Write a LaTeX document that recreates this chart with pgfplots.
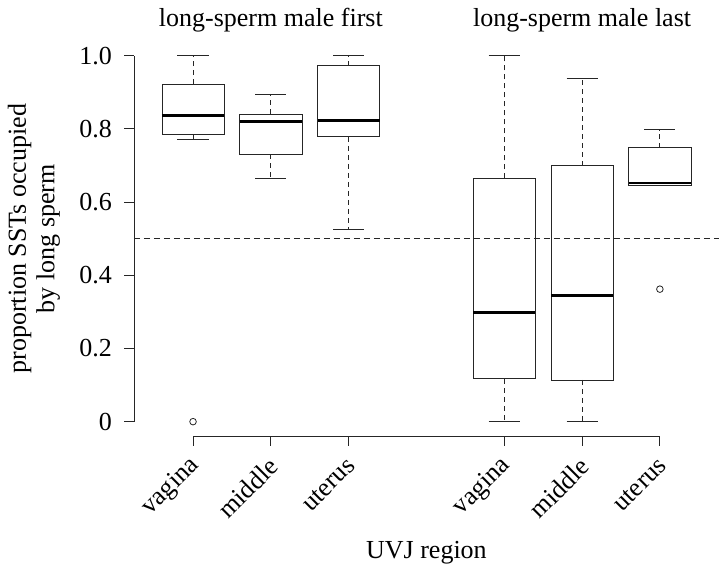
\documentclass[border=0pt]{standalone}
\usepackage{fontspec}
\setmainfont{Liberation Serif}
\usepackage{pgfplots}
\pgfplotsset{compat=1.18}
\usepgfplotslibrary{statistics}
\definecolor{ln}{gray}{0.15}
\pgfplotsset{
  boxplot/draw/lower whisker/.code={%
    \draw[ln, line width=0.8bp, dash pattern=on 5bp off 4bp]
      (boxplot box cs:\pgfplotsboxplotvalue{lower quartile},0.5) --
      (boxplot box cs:\pgfplotsboxplotvalue{lower whisker},0.5);
    \draw[ln, line width=0.8bp, solid]
      (boxplot whisker cs:\pgfplotsboxplotvalue{lower whisker},0) --
      (boxplot whisker cs:\pgfplotsboxplotvalue{lower whisker},1);
  },
  boxplot/draw/upper whisker/.code={%
    \draw[ln, line width=0.8bp, dash pattern=on 5bp off 4bp]
      (boxplot box cs:\pgfplotsboxplotvalue{upper quartile},0.5) --
      (boxplot box cs:\pgfplotsboxplotvalue{upper whisker},0.5);
    \draw[ln, line width=0.8bp, solid]
      (boxplot whisker cs:\pgfplotsboxplotvalue{upper whisker},0) --
      (boxplot whisker cs:\pgfplotsboxplotvalue{upper whisker},1);
  },
  boxplot/every box/.style={draw=ln, line width=0.8bp},
  boxplot/every median/.style={draw=black, line width=2.6bp},
  rbox/.style={ln, line width=0.8bp, mark=o, mark size=3.3bp,
    mark options={solid, line width=0.8bp}, boxplot/box extend=0.8, boxplot/whisker extend=0.4},
}
\newcommand{\lbl}{\fontsize{26bp}{28.5bp}\selectfont}
\begin{document}
\begin{tikzpicture}
\path[use as bounding box] (0,0) rectangle (721bp,564bp);
\begin{axis}[
  at={(133.9bp,127.7bp)}, anchor=south west,
  scale only axis, width=585.1bp, height=395.3bp,
  xmin=0.24, xmax=7.76, ymin=-0.04, ymax=1.04,
  axis x line*=bottom, axis y line*=left,
  axis line style={draw=none},
  tick align=outside, major tick length=9.5bp,
  tick style={ln, line width=0.8bp},
  xtick={1,2,3,5,6,7},
  xticklabels={vagina,middle,uterus,vagina,middle,uterus},
  ytick={0,0.2,0.4,0.6,0.8,1},
  yticklabels={0,0.2,0.4,0.6,0.8,1.0},
  tick label style={font=\lbl, text=black},
  xticklabel style={xshift=5bp, yshift=-14bp, rotate=45, anchor=east},
  yticklabel style={xshift=-9bp, anchor=east},
  xlabel={UVJ region},
  xlabel style={font=\lbl, at={(axis description cs:0.5,0)}, anchor=base, yshift=-122bp},
  ylabel={proportion SSTs occupied\\by long sperm},
  ylabel style={font=\lbl, align=center, at={(axis description cs:0,0.5)}, anchor=center, yshift=100bp},
  clip=false,
  boxplot/draw direction=y,
]
% dashed reference line at 0.5
\addplot[ln, line width=1.1bp, dash pattern=on 6bp off 4bp] coordinates {(0.24,0.5) (7.76,0.5)};
% long-sperm male first
\addplot[rbox, boxplot prepared={draw position=1, lower whisker=0.772, lower quartile=0.784, median=0.836, upper quartile=0.922, upper whisker=1.0}] coordinates {(0,0)};
\addplot[rbox, boxplot prepared={draw position=2, lower whisker=0.665, lower quartile=0.731, median=0.820, upper quartile=0.840, upper whisker=0.893}] coordinates {};
\addplot[rbox, boxplot prepared={draw position=3, lower whisker=0.525, lower quartile=0.778, median=0.822, upper quartile=0.973, upper whisker=1.0}] coordinates {};
% long-sperm male last
\addplot[rbox, boxplot prepared={draw position=5, lower whisker=0.0, lower quartile=0.117, median=0.299, upper quartile=0.665, upper whisker=1.0}] coordinates {};
\addplot[rbox, boxplot prepared={draw position=6, lower whisker=0.0, lower quartile=0.114, median=0.344, upper quartile=0.699, upper whisker=0.939}] coordinates {};
\addplot[rbox, boxplot prepared={draw position=7, lower whisker=0.646, lower quartile=0.646, median=0.652, upper quartile=0.748, upper whisker=0.798}] coordinates {(0,0.362)};
% axis lines (R style)
\draw[ln, line width=0.8bp] (axis cs:0.24,0) -- (axis cs:0.24,1);
\draw[ln, line width=0.8bp] (axis cs:1,-0.04) -- (axis cs:7,-0.04);
% group titles
\node[font=\lbl, anchor=base, yshift=14bp] at (axis cs:2,1.04) {long-sperm male first};
\node[font=\lbl, anchor=base, yshift=14bp] at (axis cs:6,1.04) {long-sperm male last};
\end{axis}
\end{tikzpicture}
\end{document}
